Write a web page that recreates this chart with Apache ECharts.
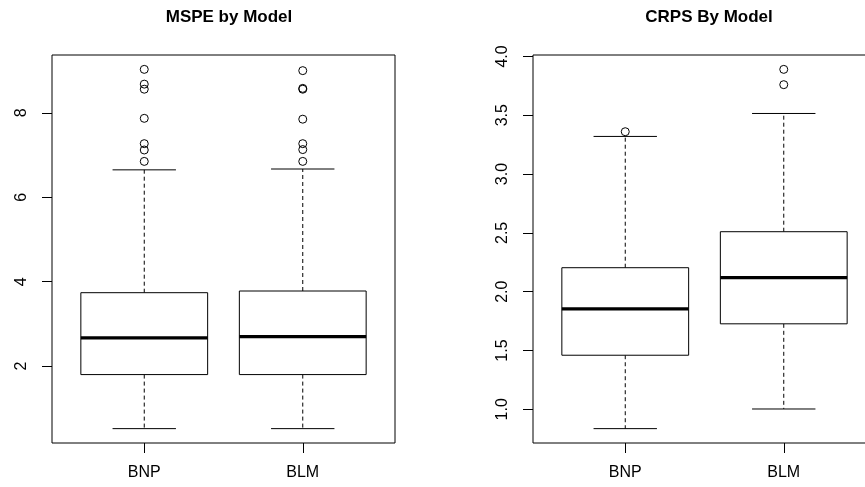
<!DOCTYPE html>
<html>
<head>
<meta charset="utf-8">
<script src="https://cdn.jsdelivr.net/npm/echarts@6/dist/echarts.min.js"></script>
<style>
  html, body { margin: 0; padding: 0; background: #fff; }
  #chart { width: 865px; height: 487px; }
</style>
</head>
<body>
<div id="chart"></div>
<script>
  // values
  const categories = ["BNP", "BLM"];
  // [min whisker, Q1, median, Q3, max whisker]
  const mspeBox = [
    [0.52, 1.80, 2.67, 3.74, 6.65],
    [0.52, 1.80, 2.70, 3.78, 6.67],
  ];
  const mspeOutliers = [
    [0, 6.85], [0, 7.12], [0, 7.27], [0, 7.87], [0, 8.56], [0, 8.68], [0, 9.03],
    [1, 6.85], [1, 7.13], [1, 7.27], [1, 7.85], [1, 8.56], [1, 8.58], [1, 9.00],
  ];
  const crpsBox = [
    [0.836, 1.46, 1.854, 2.204, 3.32],
    [1.003, 1.727, 2.12, 2.51, 3.515],
  ];
  const crpsOutliers = [[0, 3.36], [1, 3.76], [1, 3.89]];
  const mspeTicks = [2, 4, 6, 8];
  const crpsTicks = [1.0, 1.5, 2.0, 2.5, 3.0, 3.5, 4.0];

  const font = "'Liberation Sans', Arial, sans-serif";

  // R pads the data range by 4% on each side
  function padRange(box, outl) {
    let vals = [];
    box.forEach((b) => (vals = vals.concat(b)));
    outl.forEach((o) => vals.push(o[1]));
    const lo = Math.min(...vals), hi = Math.max(...vals);
    const r = hi - lo;
    return [lo - 0.04 * r, hi + 0.04 * r];
  }
  const mspeRange = padRange(mspeBox, mspeOutliers);
  const crpsRange = padRange(crpsBox, crpsOutliers);

  function renderBox(params, api) {
    const x = api.value(0);
    const bw = api.size([1, 0])[0];
    const lo = api.coord([x, api.value(1)]);
    const q1 = api.coord([x, api.value(2)]);
    const md = api.coord([x, api.value(3)]);
    const q3 = api.coord([x, api.value(4)]);
    const hi = api.coord([x, api.value(5)]);
    const cx = lo[0];
    const hb = bw * 0.4, hc = bw * 0.2;
    const solid = { stroke: "#000", lineWidth: 1, fill: null };
    const dashed = { stroke: "#000", lineWidth: 1, lineDash: [4, 3], fill: null };
    return {
      type: "group",
      children: [
        { type: "line", shape: { x1: cx, y1: q1[1], x2: cx, y2: lo[1] }, style: dashed },
        { type: "line", shape: { x1: cx, y1: q3[1], x2: cx, y2: hi[1] }, style: dashed },
        { type: "line", shape: { x1: cx - hc, y1: lo[1], x2: cx + hc, y2: lo[1] }, style: solid },
        { type: "line", shape: { x1: cx - hc, y1: hi[1], x2: cx + hc, y2: hi[1] }, style: solid },
        {
          type: "rect",
          shape: { x: cx - hb, y: q3[1], width: 2 * hb, height: q1[1] - q3[1] },
          style: { fill: "#fff", stroke: "#000", lineWidth: 1 },
        },
        {
          type: "line",
          shape: { x1: cx - hb, y1: md[1], x2: cx + hb, y2: md[1] },
          style: { stroke: "#000", lineWidth: 3.2 },
        },
      ],
    };
  }

  // the right-hand frame runs past the canvas edge, as in the original
  function frameGrid(left) {
    return {
      left: left, top: 55, width: 343, height: 388,
      show: true, borderColor: "#000", borderWidth: 1,
      backgroundColor: "transparent",
      outerBoundsMode: "none", containLabel: false,
    };
  }
  function dataGrid(left) {
    return {
      left: left, top: 55, width: 317, height: 388,
      outerBoundsMode: "none", containLabel: false,
    };
  }

  function catAxis(gridIndex) {
    return {
      type: "category",
      gridIndex: gridIndex,
      data: categories,
      boundaryGap: true,
      axisLine: { show: false },
      axisTick: { show: true, alignWithLabel: true, length: 10, lineStyle: { color: "#000" } },
      axisLabel: { color: "#000", fontSize: 16, fontFamily: font, margin: 22 },
      splitLine: { show: false },
    };
  }
  function valAxis(gridIndex, range, ticks, fmt) {
    return {
      type: "value",
      gridIndex: gridIndex,
      min: range[0],
      max: range[1],
      offset: 13,
      axisLine: { show: false },
      axisTick: { show: true, length: 10, customValues: ticks, lineStyle: { color: "#000" } },
      axisLabel: {
        color: "#000", fontSize: 16, fontFamily: font, rotate: 90, margin: 22,
        customValues: ticks, formatter: fmt,
      },
      splitLine: { show: false },
    };
  }
  function hiddenAxis(type, gridIndex) {
    return { type: type, gridIndex: gridIndex, show: false, min: 0, max: 1 };
  }

  const chart = echarts.init(document.getElementById("chart"));
  chart.setOption({
    animation: false,
    backgroundColor: "#fff",
    title: [
      {
        text: "MSPE by Model", left: 224, top: 4, textAlign: "center",
        textStyle: { fontSize: 17, fontWeight: "bold", color: "#000", fontFamily: font },
      },
      {
        text: "CRPS By Model", left: 704, top: 4, textAlign: "center",
        textStyle: { fontSize: 17, fontWeight: "bold", color: "#000", fontFamily: font },
      },
    ],
    grid: [frameGrid(52), dataGrid(65), frameGrid(533), dataGrid(546)],
    xAxis: [
      hiddenAxis("value", 0),
      catAxis(1),
      hiddenAxis("value", 2),
      catAxis(3),
    ],
    yAxis: [
      hiddenAxis("value", 0),
      valAxis(1, mspeRange, mspeTicks, (v) => String(Math.round(v))),
      hiddenAxis("value", 2),
      valAxis(3, crpsRange, crpsTicks, (v) => v.toFixed(1)),
    ],
    series: [
      {
        type: "custom", xAxisIndex: 1, yAxisIndex: 1,
        renderItem: renderBox,
        encode: { x: 0, y: [1, 2, 3, 4, 5] },
        data: mspeBox.map((b, i) => [i].concat(b)),
      },
      {
        type: "scatter", xAxisIndex: 1, yAxisIndex: 1,
        symbol: "circle", symbolSize: 8,
        itemStyle: { color: "rgba(0,0,0,0)", borderColor: "#000", borderWidth: 1, opacity: 1 },
        data: mspeOutliers,
      },
      {
        type: "custom", xAxisIndex: 3, yAxisIndex: 3,
        renderItem: renderBox,
        encode: { x: 0, y: [1, 2, 3, 4, 5] },
        data: crpsBox.map((b, i) => [i].concat(b)),
      },
      {
        type: "scatter", xAxisIndex: 3, yAxisIndex: 3,
        symbol: "circle", symbolSize: 8,
        itemStyle: { color: "rgba(0,0,0,0)", borderColor: "#000", borderWidth: 1, opacity: 1 },
        data: crpsOutliers,
      },
    ],
  });
</script>
</body>
</html>
